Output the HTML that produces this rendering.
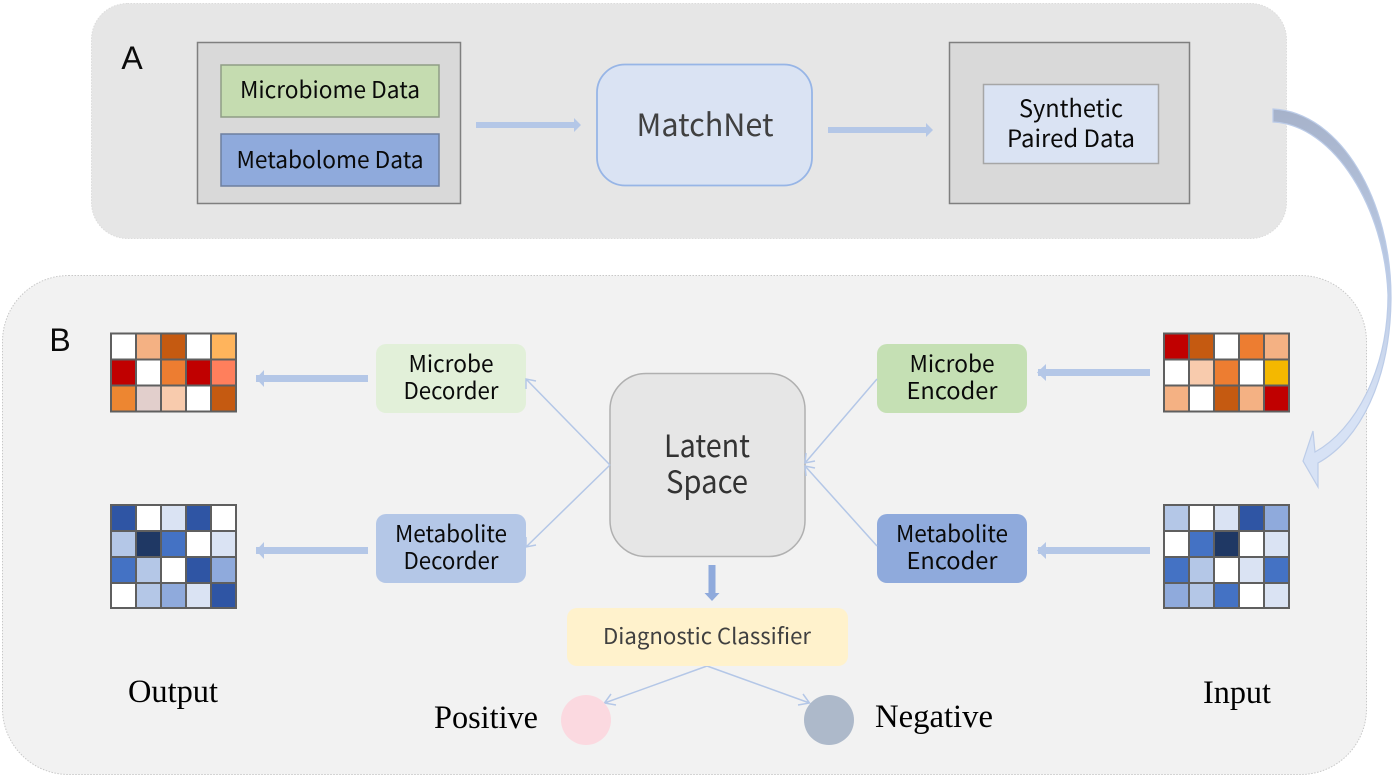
<!DOCTYPE html>
<html><head><meta charset="utf-8"><style>
html,body{margin:0;padding:0;background:#fff}
svg{display:block}
text{font-family:"Noto Sans CJK SC","Liberation Sans",sans-serif;text-anchor:middle;fill:#0a0a0a}
.s{font-family:"Liberation Serif",serif;fill:#000;font-size:33px}
.c rect{stroke:#5f5f5f;stroke-width:2}
</style></head><body>
<svg width="1394" height="779" viewBox="0 0 1394 779" xmlns="http://www.w3.org/2000/svg">
<defs><linearGradient id="g" x1="0" y1="0" x2="0" y2="1"><stop offset="0" stop-color="#a6b2ca"/><stop offset=".4" stop-color="#b9c8e2"/><stop offset=".8" stop-color="#d7e2f5"/></linearGradient></defs>
<rect x="91.500" y="3.500" width="1195" height="235" rx="36" fill="#e6e6e6" stroke="#dcdcdc" stroke-dasharray="1.500 1.500"/>
<rect x="2.500" y="275.500" width="1364" height="499" rx="66" fill="#f2f2f2" stroke="#c8c8c8" stroke-dasharray="1.500 1.500"/>
<path d="M1273 109C1340 112 1392 200 1391 300C1390 380 1360 440 1318 463L1318 487L1303 461L1313 431L1315 452C1355 430 1388 370 1388 295C1385 210 1335 125 1273 122Z" fill="url(#g)" stroke="#bccce8" stroke-width="1.200"/>
<text x="132" y="69" style="font-size:32px;font-family:'Liberation Sans',sans-serif">A</text>
<text x="60" y="351" style="font-size:32px;font-family:'Liberation Sans',sans-serif">B</text>
<rect x="197.500" y="42.500" width="263" height="161" fill="#d9d9d9" stroke="#7f7f7f" stroke-width="1.500"/>
<rect x="221" y="65" width="218" height="52" fill="#c5dcb0" stroke="#8f9d86" stroke-width="1.500"/>
<rect x="221" y="134" width="218" height="52" fill="#8faadc" stroke="#6d7f9f" stroke-width="1.500"/>
<text x="330" y="98" font-size="23" textLength="180" lengthAdjust="spacingAndGlyphs">Microbiome Data</text>
<text x="330" y="168" font-size="23" textLength="187" lengthAdjust="spacingAndGlyphs">Metabolome Data</text>
<path d="M476 122h98v-4l7 7l-7 7v-4h-98z" fill="#b4c7e7"/>
<rect x="597" y="64.500" width="215" height="121" rx="28" fill="#dae3f3" stroke="#97b5e6" stroke-width="1.800"/>
<text x="705" y="136" font-size="31" textLength="137" lengthAdjust="spacingAndGlyphs" style="fill:#404040">MatchNet</text>
<path d="M828 127h98v-4l7 7l-7 7v-4h-98z" fill="#b4c7e7"/>
<rect x="949.500" y="42.500" width="240" height="161" fill="#d9d9d9" stroke="#7f7f7f" stroke-width="1.500"/>
<rect x="983.500" y="84.500" width="175" height="79" fill="#dae3f3" stroke="#a6a6a6" stroke-width="1.500"/>
<text x="1071" y="117" font-size="24" textLength="104" lengthAdjust="spacingAndGlyphs">Synthetic</text>
<text x="1071" y="147" font-size="24" textLength="128" lengthAdjust="spacingAndGlyphs">Paired Data</text>

<rect x="376" y="344" width="150" height="69" rx="10" fill="#e2f0d9"/>
<rect x="376" y="514" width="150" height="69" rx="10" fill="#b4c7e7"/>
<rect x="877" y="344" width="150" height="69" rx="10" fill="#c5e0b4"/>
<rect x="877" y="514" width="150" height="69" rx="10" fill="#8faadc"/>
<text x="451" y="372" font-size="23" textLength="85" lengthAdjust="spacingAndGlyphs">Microbe</text>
<text x="451" y="399" font-size="23" textLength="95" lengthAdjust="spacingAndGlyphs">Decorder</text>
<text x="451" y="542" font-size="23" textLength="112" lengthAdjust="spacingAndGlyphs">Metabolite</text>
<text x="451" y="569" font-size="23" textLength="95" lengthAdjust="spacingAndGlyphs">Decorder</text>
<text x="952" y="372" font-size="23" textLength="85" lengthAdjust="spacingAndGlyphs">Microbe</text>
<text x="952" y="399" font-size="23" textLength="91" lengthAdjust="spacingAndGlyphs">Encoder</text>
<text x="952" y="542" font-size="23" textLength="112" lengthAdjust="spacingAndGlyphs">Metabolite</text>
<text x="952" y="569" font-size="23" textLength="91" lengthAdjust="spacingAndGlyphs">Encoder</text>

<rect x="610" y="373.500" width="195" height="183" rx="36" fill="#e6e6e6" stroke="#b0b0b0" stroke-width="1.500"/>
<text x="707" y="457" font-size="31" textLength="86" lengthAdjust="spacingAndGlyphs" style="fill:#333">Latent</text>
<text x="707" y="493" font-size="31" textLength="82" lengthAdjust="spacingAndGlyphs" style="fill:#333">Space</text>

<g fill="none" stroke="#b4c7e7" stroke-width="1.500">
<path d="M610 465L526 379M526 389L526 379L536 381"/>
<path d="M610 465L526 547M526 537L526 547L536 545"/>
<path d="M877 379L805 463M806 453L805 463L815 461"/>
<path d="M877 546L805 466M806 476L805 466L815 468"/>
<path d="M707 666L604.500 703M611 694L604.500 703L616 705"/>
<path d="M707 666L809.500 703M803 694L809.500 703L798 705"/>
</g>
<rect x="256" y="375" width="112" height="7" fill="#b4c7e7"/><path d="M264 370L256 378.500L264 387z" fill="#b4c7e7"/>
<rect x="256" y="547" width="112" height="7" fill="#b4c7e7"/><path d="M264 542L256 550.500L264 559z" fill="#b4c7e7"/>
<rect x="1038" y="369" width="112" height="7" fill="#b4c7e7"/><path d="M1046 364L1037 372.500L1046 381z" fill="#b4c7e7"/>
<rect x="1038" y="547" width="112" height="7" fill="#b4c7e7"/><path d="M1046 542L1037 550.500L1046 559z" fill="#b4c7e7"/>
<path d="M708.500 565h7v28h4l-7.500 8l-7.500-8h4z" fill="#8faadc"/>
<rect x="567" y="608" width="281" height="58" rx="10" fill="#fff2cc"/>
<text x="707" y="644" font-size="22" textLength="208" lengthAdjust="spacingAndGlyphs" style="fill:#404040">Diagnostic Classifier</text>
<ellipse cx="586" cy="720" rx="25" ry="25" fill="#fbd9e0"/>
<ellipse cx="829" cy="720" rx="25" ry="25" fill="#adb9ca"/>
<text class="s" x="173" y="702" textLength="90" lengthAdjust="spacingAndGlyphs">Output</text>
<text class="s" x="1237" y="703" textLength="68" lengthAdjust="spacingAndGlyphs">Input</text>
<text class="s" x="486" y="728" textLength="104" lengthAdjust="spacingAndGlyphs">Positive</text>
<text class="s" x="934" y="727" textLength="118" lengthAdjust="spacingAndGlyphs">Negative</text>

<g class="c">
<rect x="111" y="333.500" width="25" height="26" fill="#fff"/><rect x="136" y="333.500" width="25" height="26" fill="#f4b183"/><rect x="161" y="333.500" width="25" height="26" fill="#c55a11"/><rect x="186" y="333.500" width="25" height="26" fill="#fff"/><rect x="211" y="333.500" width="25" height="26" fill="#ffb45c"/>
<rect x="111" y="359.500" width="25" height="26" fill="#c00000"/><rect x="136" y="359.500" width="25" height="26" fill="#fff"/><rect x="161" y="359.500" width="25" height="26" fill="#ed7d31"/><rect x="186" y="359.500" width="25" height="26" fill="#c00000"/><rect x="211" y="359.500" width="25" height="26" fill="#ff7f5c"/>
<rect x="111" y="385.500" width="25" height="26" fill="#ed8631"/><rect x="136" y="385.500" width="25" height="26" fill="#e2cfcc"/><rect x="161" y="385.500" width="25" height="26" fill="#f8cbad"/><rect x="186" y="385.500" width="25" height="26" fill="#fff"/><rect x="211" y="385.500" width="25" height="26" fill="#c55a11"/>

<rect x="111" y="505" width="25" height="26" fill="#2f55a4"/><rect x="136" y="505" width="25" height="26" fill="#fff"/><rect x="161" y="505" width="25" height="26" fill="#dae3f3"/><rect x="186" y="505" width="25" height="26" fill="#2f55a4"/><rect x="211" y="505" width="25" height="26" fill="#fff"/>
<rect x="111" y="531" width="25" height="26" fill="#b4c7e7"/><rect x="136" y="531" width="25" height="26" fill="#1f3864"/><rect x="161" y="531" width="25" height="26" fill="#4472c4"/><rect x="186" y="531" width="25" height="26" fill="#fff"/><rect x="211" y="531" width="25" height="26" fill="#dae3f3"/>
<rect x="111" y="557" width="25" height="26" fill="#4472c4"/><rect x="136" y="557" width="25" height="26" fill="#b4c7e7"/><rect x="161" y="557" width="25" height="26" fill="#fff"/><rect x="186" y="557" width="25" height="26" fill="#2f55a4"/><rect x="211" y="557" width="25" height="26" fill="#8faadc"/>
<rect x="111" y="583" width="25" height="25" fill="#fff"/><rect x="136" y="583" width="25" height="25" fill="#b4c7e7"/><rect x="161" y="583" width="25" height="25" fill="#8faadc"/><rect x="186" y="583" width="25" height="25" fill="#dae3f3"/><rect x="211" y="583" width="25" height="25" fill="#2f55a4"/>

<rect x="1164" y="333.500" width="25" height="26" fill="#c00000"/><rect x="1189" y="333.500" width="25" height="26" fill="#c55a11"/><rect x="1214" y="333.500" width="25" height="26" fill="#fff"/><rect x="1239" y="333.500" width="25" height="26" fill="#ed7d31"/><rect x="1264" y="333.500" width="25" height="26" fill="#f4b183"/>
<rect x="1164" y="359.500" width="25" height="26" fill="#fff"/><rect x="1189" y="359.500" width="25" height="26" fill="#f8cbad"/><rect x="1214" y="359.500" width="25" height="26" fill="#ed7d31"/><rect x="1239" y="359.500" width="25" height="26" fill="#fff"/><rect x="1264" y="359.500" width="25" height="26" fill="#f4b800"/>
<rect x="1164" y="385.500" width="25" height="26" fill="#f4b183"/><rect x="1189" y="385.500" width="25" height="26" fill="#fff"/><rect x="1214" y="385.500" width="25" height="26" fill="#c55a11"/><rect x="1239" y="385.500" width="25" height="26" fill="#f4b183"/><rect x="1264" y="385.500" width="25" height="26" fill="#c00000"/>

<rect x="1164" y="505" width="25" height="26" fill="#b4c7e7"/><rect x="1189" y="505" width="25" height="26" fill="#fff"/><rect x="1214" y="505" width="25" height="26" fill="#dae3f3"/><rect x="1239" y="505" width="25" height="26" fill="#2f55a4"/><rect x="1264" y="505" width="25" height="26" fill="#8faadc"/>
<rect x="1164" y="531" width="25" height="26" fill="#fff"/><rect x="1189" y="531" width="25" height="26" fill="#4472c4"/><rect x="1214" y="531" width="25" height="26" fill="#1f3864"/><rect x="1239" y="531" width="25" height="26" fill="#fff"/><rect x="1264" y="531" width="25" height="26" fill="#dae3f3"/>
<rect x="1164" y="557" width="25" height="26" fill="#4472c4"/><rect x="1189" y="557" width="25" height="26" fill="#b4c7e7"/><rect x="1214" y="557" width="25" height="26" fill="#fff"/><rect x="1239" y="557" width="25" height="26" fill="#dae3f3"/><rect x="1264" y="557" width="25" height="26" fill="#4472c4"/>
<rect x="1164" y="583" width="25" height="25" fill="#8faadc"/><rect x="1189" y="583" width="25" height="25" fill="#b4c7e7"/><rect x="1214" y="583" width="25" height="25" fill="#4472c4"/><rect x="1239" y="583" width="25" height="25" fill="#fff"/><rect x="1264" y="583" width="25" height="25" fill="#dae3f3"/>
</g>
</svg>
</body></html>
